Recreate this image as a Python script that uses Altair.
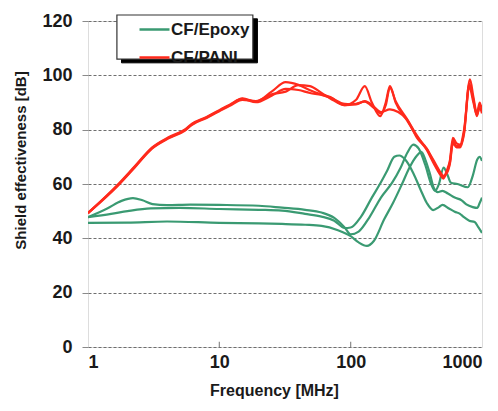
import altair as alt
import pandas as pd

# ---- data ----
series_names = ["CF/Epoxy", "CF/PANI"]
series_colors = ["#3a9a72", "#ff2a1c"]

g1_f = [1, 1.4, 1.8, 2.2, 2.6, 3.1, 4, 6, 10, 20, 30, 45, 60, 75, 90, 100, 115, 140, 170, 207, 240, 270, 300, 330, 370, 410, 440, 470, 510, 540, 580, 650, 780, 850, 920, 960, 1000]
g1_v = [47.8, 51, 53.8, 54.8, 54, 52.6, 52.2, 52.4, 52.3, 52, 51.3, 50.5, 49.5, 47.5, 44, 41.5, 42.5, 48, 55, 60.5, 66, 71.5, 74.5, 73, 67, 60, 57.5, 60, 66, 64, 60.5, 60, 58.8, 63, 69, 70, 68.5]

g2_f = [1, 1.5, 2, 3, 5, 10, 20, 30, 45, 60, 75, 90, 100, 120, 145, 167, 190, 215, 235, 260, 300, 340, 380, 425, 470, 500, 560, 620, 680, 720, 800, 880, 940, 1000]
g2_v = [47.8, 49, 50, 51, 51.2, 50.8, 50.5, 50.2, 49, 48, 46.5, 43.8, 44, 48, 55, 60, 65, 70, 70.5, 69, 64, 58, 53, 50.4, 51.5, 52.3, 51, 49.8, 49, 48, 46.5, 46, 44, 42]

g3_f = [1, 2, 4, 10, 20, 30, 45, 60, 80, 100, 115, 133, 150, 180, 210, 246, 280, 320, 345, 370, 400, 430, 460, 500, 550, 620, 700, 760, 850, 920, 960, 1000]
g3_v = [45.7, 45.8, 46.2, 45.7, 45.5, 45.3, 45, 44.6, 43, 40.8, 38.5, 37.2, 39, 47, 53, 60, 66, 70.5, 71.8, 69, 64, 58.5, 57, 57.5, 56.5, 55, 54, 52.5, 51.5, 51.2, 53, 55]

r1_f = [1, 1.69, 2.28, 3.07, 4.07, 5.48, 6.2, 8, 10, 12, 15, 19, 25, 32, 40, 49, 60, 70, 90, 110, 128, 145, 168, 185, 199, 220, 268, 320, 380, 430, 480, 508, 540, 570, 600, 640, 680, 730, 810, 860, 915, 960, 1000]
r1_v = [49.3, 59.6, 66.4, 73.2, 76.9, 79.9, 82, 84.5, 87, 89, 91.5, 90.3, 94, 97.5, 96.5, 94.5, 93, 92, 89, 91, 96, 90, 85, 90, 96, 90, 83.5, 77.4, 73, 68, 64, 62.5, 65, 68.8, 77, 75, 74.5, 80, 98.5, 92, 86, 90, 87]

r2_f = [1, 1.69, 2.28, 3.07, 4.07, 5.48, 6.2, 8, 10, 12, 15, 19, 25, 32, 40, 49, 60, 70, 90, 110, 128, 150, 170, 185, 199, 220, 268, 320, 380, 430, 480, 508, 540, 570, 600, 640, 680, 730, 800, 860, 915, 960, 1000]
r2_v = [49.3, 59.4, 66.2, 73, 76.7, 79.7, 81.8, 84.3, 86.8, 88.8, 91, 90.5, 93, 94, 96.4, 96, 93.5, 91.5, 89, 89.5, 90.3, 88, 86, 89, 95.5, 90.5, 84, 77.8, 72.5, 67.5, 63.5, 62, 64.5, 68, 76, 74, 74, 79, 97, 91, 85, 89, 88]

r3_f = [1, 1.69, 2.28, 3.07, 4.07, 5.48, 6.2, 8, 10, 12, 15, 19, 25, 32, 40, 49, 60, 70, 90, 110, 128, 150, 170, 199, 230, 268, 320, 380, 430, 480, 508, 540, 570, 600, 640, 680, 730, 800, 860, 915, 960, 1000]
r3_v = [49.3, 59.8, 66.6, 73.4, 77.1, 80.1, 82.2, 84.7, 87.2, 89.2, 91.3, 90.1, 92.5, 95, 94.6, 93.5, 92.8, 91.8, 89.5, 89.3, 90.5, 88.5, 86.5, 87.5, 86.5, 83.8, 77, 72.8, 68.5, 64.5, 63, 64, 67.5, 75, 73.5, 73.5, 78.5, 96, 90, 85.5, 88, 86]

y_ticks = [0, 20, 40, 60, 80, 100, 120]
x_ticks = [1, 10, 100, 1000]
x_minor = [10, 100]

rows = []
for name, run, fs, vs in [
    ("CF/Epoxy", "g1", g1_f, g1_v),
    ("CF/Epoxy", "g2", g2_f, g2_v),
    ("CF/Epoxy", "g3", g3_f, g3_v),
    ("CF/PANI", "r1", r1_f, r1_v),
    ("CF/PANI", "r2", r2_f, r2_v),
    ("CF/PANI", "r3", r3_f, r3_v),
]:
    for f, v in zip(fs, vs):
        rows.append({"series": name, "run": run, "freq": f, "se": v})
df = pd.DataFrame(rows)

FONT = "Liberation Sans"

xscale = alt.Scale(type="log", domain=[1, 1000], nice=False)
yscale = alt.Scale(domain=[0, 120], nice=False)

x_axis = alt.Axis(
    values=x_ticks, format="d", grid=False, ticks=False, domain=False,
    labelFont=FONT, labelFontSize=18, labelFontWeight="bold", labelColor="#1a1a1a",
    labelPadding=6, labelBaseline="top",
    title="Frequency [MHz]", titleFont=FONT, titleFontSize=16, titleFontWeight="bold",
    titleColor="#1a1a1a", titleX=186, titleY=43, titleBaseline="middle", titleAlign="center",
)
y_axis = alt.Axis(
    values=y_ticks, grid=True, gridDash=[3, 2], gridColor="#6e6e6e", gridWidth=1.2,
    tickColor="#8a8a8a", tickSize=6, domain=False,
    labelFont=FONT, labelFontSize=18, labelFontWeight="bold", labelColor="#1a1a1a",
    labelPadding=10,
    title="Shield effectiveness [dB]", titleFont=FONT, titleFontSize=15, titleFontWeight="bold",
    titleColor="#1a1a1a", titleX=-68, titleY=139, titleBaseline="middle", titleAlign="center",
    titleAngle=270,
)

# legend frame with drop shadow: a black outline drawn thicker on the right/bottom side
frame_df = pd.DataFrame({"f0": [1.66], "f1": [18.0], "v0": [106.0], "v1": [122.2]})
shadow_df = pd.DataFrame({"f0": [1.80], "f1": [19.5], "v0": [104.6], "v1": [120.8]})

shadow = alt.Chart(shadow_df).mark_rect(fill="black", stroke="black", strokeWidth=1, opacity=1, clip=False).encode(
    x=alt.X("f0:Q", scale=xscale), x2="f1:Q",
    y=alt.Y("v0:Q", scale=yscale), y2="v1:Q",
)
box = alt.Chart(frame_df).mark_rect(fill="white", stroke="#333333", strokeWidth=1.2, clip=False).encode(
    x=alt.X("f0:Q", scale=xscale), x2="f1:Q",
    y=alt.Y("v0:Q", scale=yscale), y2="v1:Q",
)

lines = alt.Chart(df).mark_line(interpolate="monotone", strokeWidth=2.2, clip=True).encode(
    x=alt.X("freq:Q", scale=xscale, axis=x_axis),
    y=alt.Y("se:Q", scale=yscale, axis=y_axis),
    color=alt.Color(
        "series:N",
        scale=alt.Scale(domain=series_names, range=series_colors),
        legend=alt.Legend(
            title=None, orient="none", legendX=58, legendY=0,
            symbolType="M-2.5,0H2.5", symbolSize=144, symbolStrokeWidth=2.5,
            labelFont=FONT, labelFontSize=17, labelFontWeight="bold", labelColor="#1a1a1a",
            labelOffset=8, rowPadding=10, padding=0,
        ),
    ),
    detail="run:N",
)

ticks_df = pd.DataFrame({"freq": x_minor, "y0": [0, 0], "y1": [1.9, 1.9]})
minor_ticks = alt.Chart(ticks_df).mark_rule(color="#8a8a8a", strokeWidth=1.2).encode(
    x=alt.X("freq:Q", scale=xscale),
    y=alt.Y("y0:Q", scale=yscale),
    y2="y1:Q",
)

chart = alt.layer(shadow, box, minor_ticks, lines).properties(
    width=394, height=326,
    autosize=alt.AutoSizeParams(type="none"),
    padding={"left": 80, "top": 13, "right": 8, "bottom": 56},
).configure_view(
    stroke="#8a8a8a", strokeWidth=1.5
).configure(background="#ffffff")

chart.save("out.html", embed_options={"renderer": "svg", "actions": False})
